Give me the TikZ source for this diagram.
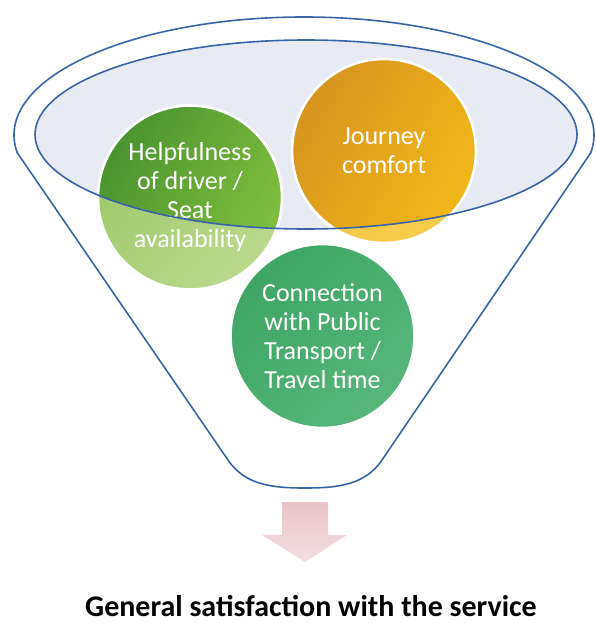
\documentclass[tikz,border=0pt]{standalone}
\usepackage{fontspec}
\setmainfont{Carlito}
\begin{document}
\begin{tikzpicture}[x=1pt,y=-1pt]
\useasboundingbox (0,0) rectangle (595,623);
\definecolor{funnelblue}{HTML}{3A64A8}
\definecolor{rimfill}{HTML}{E8EBF4}
\definecolor{greenA}{HTML}{4A9430}
\definecolor{greenB}{HTML}{80C040}
\definecolor{greenC}{HTML}{9CC768}
\definecolor{greenD}{HTML}{BCD98E}
\definecolor{orangeA}{HTML}{D6951F}
\definecolor{orangeB}{HTML}{F2B81A}
\definecolor{orangeC}{HTML}{EFBE3A}
\definecolor{orangeD}{HTML}{F7CD4E}
\definecolor{tealA}{HTML}{3FA566}
\definecolor{tealB}{HTML}{58B67C}
\definecolor{arrowA}{HTML}{E8C4C9}
\definecolor{arrowB}{HTML}{F3DEE1}
\tikzset{
  funnelline/.style={draw=funnelblue, line width=1.6pt, line cap=round, line join=round},
  bubble/.style={circle, draw=white, line width=2.6pt, minimum size=184pt, inner sep=0pt,
    text=white, align=center, font=\fontsize{26}{29}\selectfont},
  caption/.style={anchor=base, text=black, font=\bfseries\fontsize{30}{34}\selectfont},
}

% centres of the three factor circles
\coordinate (cHelp) at (190,197.5);
\coordinate (cJour) at (384,151);
\coordinate (cConn) at (322.5,336);
% where the funnel rim meets its sides
\coordinate (rimL) at (17.4,153);
\coordinate (rimR) at (590.6,153);

% inner mouth of the funnel
\fill[rimfill] (306,134.5) ellipse [x radius=271, y radius=94.5];

% circles: paler below the mouth, deeper inside it
\shade[top color=greenC, bottom color=greenD, shading angle=45] (cHelp) circle [radius=92];
\shade[top color=orangeC, bottom color=orangeD, shading angle=45] (cJour) circle [radius=92];
\shade[top color=tealA, bottom color=tealB, shading angle=45] (cConn) circle [radius=92];
\begin{scope}
  \clip (306,134.5) ellipse [x radius=271, y radius=94.5];
  \shade[top color=greenA, bottom color=greenB, shading angle=60] (cHelp) circle [radius=92];
  \shade[top color=orangeA, bottom color=orangeB, shading angle=60] (cJour) circle [radius=92];
\end{scope}

% labelled circles
\node[bubble] (help) at (cHelp) {Helpfulness\\of driver /\\Seat\\availability};
\node[bubble] (jour) at (cJour) {Journey\\comfort};
\node[bubble] (conn) at (cConn) {Connection\\with Public\\Transport /\\Travel time};

% mouth outline
\draw[funnelline] (306,134.5) ellipse [x radius=271, y radius=94.5];

% funnel rim (upper part of the outer ellipse)
\begin{scope}
  \clip (0,0) rectangle (595,153);
  \draw[funnelline] (304,135) ellipse [x radius=290, y radius=118];
\end{scope}
% funnel body
\draw[funnelline] (rimL) -- (228,460)
  .. controls (245,485) and (272,488) .. (305,488)
  .. controls (338,488) and (365,485) .. (382,460) -- (rimR);

% block arrow under the funnel
\shade[top color=arrowA, bottom color=arrowB]
  (282,502) -- (328,502) -- (328,535) -- (347,535) -- (305,562)
  -- (262,535) -- (282,535) -- cycle;

\node[caption] (result) at (311,616) {General satisfaction with the service};
\end{tikzpicture}
\end{document}
